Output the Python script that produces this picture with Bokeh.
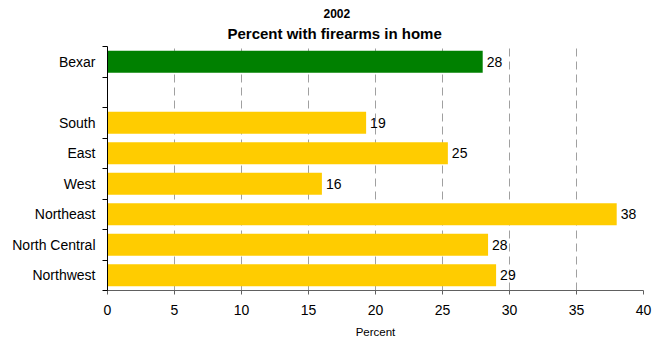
from bokeh.plotting import figure
from bokeh.models import ColumnDataSource, Range1d, FixedTicker, LabelSet, Title
from bokeh.core.properties import value
from bokeh.embed import file_html
from bokeh.resources import INLINE

# Data (top to bottom as shown); "" is the blank spacer slot
categories = ["Bexar", "", "South", "East", "West", "Northeast", "North Central", "Northwest"]
values = [28.0, None, 19.3, 25.4, 16.0, 38.0, 28.4, 29.0]
value_labels = ["28", "", "19", "25", "16", "38", "28", "29"]
colors = ["#008000", None, "#FFCC00", "#FFCC00", "#FFCC00", "#FFCC00", "#FFCC00", "#FFCC00"]
x_ticks = [0, 5, 10, 15, 20, 25, 30, 35, 40]

FONT = "Liberation Sans"

n = len(categories)
# slot centers, counted from the bottom
centers = [n - i - 0.5 for i in range(n)]
boundaries = list(range(n + 1))

keep = [i for i, v in enumerate(values) if v is not None]
src = ColumnDataSource(dict(
    y=[centers[i] for i in keep],
    v=[values[i] for i in keep],
    lab=[value_labels[i] for i in keep],
    c=[colors[i] for i in keep],
))

p = figure(width=660, height=341, output_backend="svg", toolbar_location=None,
           x_range=Range1d(0, 40), y_range=Range1d(0, n),
           min_border_left=107, min_border_right=17, min_border_top=46, min_border_bottom=51)

p.hbar(y="y", left=0, right="v", height=0.72, color="c", line_color=None, source=src)

labels = LabelSet(x="v", y="y", text="lab", source=src, x_offset=4,
                  text_align="left", text_baseline="middle",
                  text_font=value(FONT), text_font_size=value("14px"), text_color=value("#000000"))
p.add_layout(labels)

# Titles
t1 = Title(text="Percent with firearms in home", align="left", offset=120, standoff=9,
           text_font=FONT, text_font_size="15px", text_font_style="bold", text_color="#000000")
t2 = Title(text="2002", align="left", offset=216, standoff=2,
           text_font=FONT, text_font_size="12px", text_font_style="bold", text_color="#000000")
p.add_layout(t1, "above")
p.add_layout(t2, "above")

# X axis
p.xaxis.ticker = FixedTicker(ticks=x_ticks)
p.xaxis.axis_label = "Percent"
p.xaxis.axis_label_text_font = FONT
p.xaxis.axis_label_text_font_size = "11.5px"
p.xaxis.axis_label_text_font_style = "normal"
p.xaxis.axis_label_text_color = "#000000"
p.xaxis.axis_label_text_line_height = 1.0
p.xaxis.axis_label_standoff = 8
p.xaxis.major_label_text_font = FONT
p.xaxis.major_label_text_font_size = "14px"
p.xaxis.major_label_text_color = "#000000"
p.xaxis.major_label_text_line_height = 1.0
p.xaxis.axis_line_color = "#606060"
p.xaxis.major_tick_line_color = "#606060"
p.xaxis.major_tick_out = 4
p.xaxis.major_tick_in = 0
p.xaxis.minor_tick_line_color = None
p.xaxis.major_label_standoff = 10

# Y axis: labels at slot centers, tick marks at slot boundaries
p.yaxis.ticker = FixedTicker(ticks=centers, minor_ticks=boundaries)
p.yaxis.major_label_overrides = {c: lab for c, lab in zip(centers, categories)}
p.yaxis.major_tick_line_color = None
p.yaxis.major_tick_out = 0
p.yaxis.major_tick_in = 0
p.yaxis.minor_tick_line_color = "#000000"
p.yaxis.minor_tick_out = 5
p.yaxis.minor_tick_in = 0
p.yaxis.axis_line_color = "#000000"
p.yaxis.major_label_text_font = FONT
p.yaxis.major_label_text_font_size = "14px"
p.yaxis.major_label_text_color = "#000000"
p.yaxis.major_label_standoff = 7

# Grid
p.ygrid.grid_line_color = None
p.xgrid.ticker = FixedTicker(ticks=x_ticks[1:])
p.xgrid.grid_line_color = "#a0a0a0"
p.xgrid.grid_line_dash = "8 5"
p.outline_line_color = None

open("out.html", "w").write(file_html(p, INLINE))
